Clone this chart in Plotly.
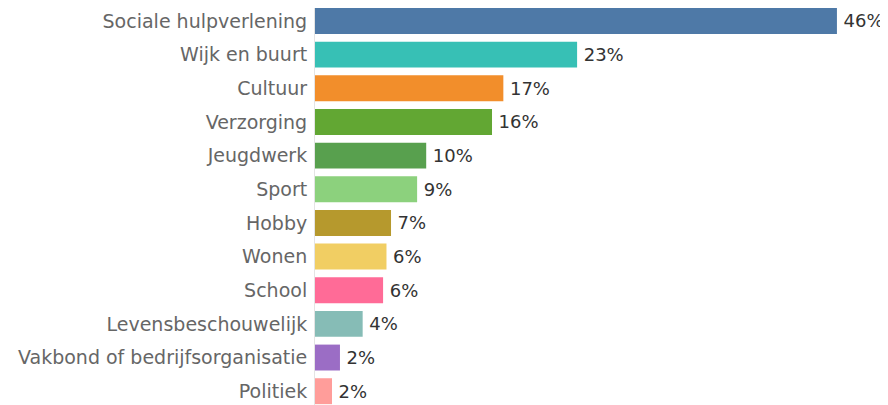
import plotly.graph_objects as go

categories = ["Sociale hulpverlening", "Wijk en buurt", "Cultuur", "Verzorging", "Jeugdwerk",
              "Sport", "Hobby", "Wonen", "School", "Levensbeschouwelijk",
              "Vakbond of bedrijfsorganisatie", "Politiek"]
values = [46.0, 23.1, 16.6, 15.6, 9.8, 9.0, 6.7, 6.3, 6.0, 4.2, 2.2, 1.5]
labels = ["46%", "23%", "17%", "16%", "10%", "9%", "7%", "6%", "6%", "4%", "2%", "2%"]
colors = ["#4E79A7", "#37C0B5", "#F28E2B", "#62A733", "#58A04E", "#8CD17D",
          "#B6992D", "#F1CE63", "#FF6B97", "#86BCB6", "#9B6DC5", "#FF9D9A"]

fig = go.Figure(go.Bar(
    x=values, y=categories, orientation="h",
    marker=dict(color=colors, line=dict(width=0)),
    text=labels, texttemplate="\u2009%{text}",
    textposition="outside", cliponaxis=False,
    textfont=dict(family="DejaVu Sans", size=18, color="#333333"),
    hoverinfo="skip",
))

# the page body has an 8px margin, so the figure is 8px smaller than the window
fig.update_layout(
    width=880, height=397,
    margin=dict(l=307, r=0, t=0, b=0, autoexpand=False),
    plot_bgcolor="white", paper_bgcolor="white",
    bargap=0.23,
    showlegend=False,
    xaxis=dict(range=[0, 50.5], visible=False, automargin=False),
    yaxis=dict(
        categoryorder="array", categoryarray=categories,
        range=[11.41, -0.386], automargin=False,
        showline=True, linecolor="#e4e4e4", linewidth=1,
        showgrid=False, ticks="",
        ticklabelstandoff=3,
        tickfont=dict(family="DejaVu Sans", size=19, color="#666666"),
    ),
)

fig.write_html("out.html")
